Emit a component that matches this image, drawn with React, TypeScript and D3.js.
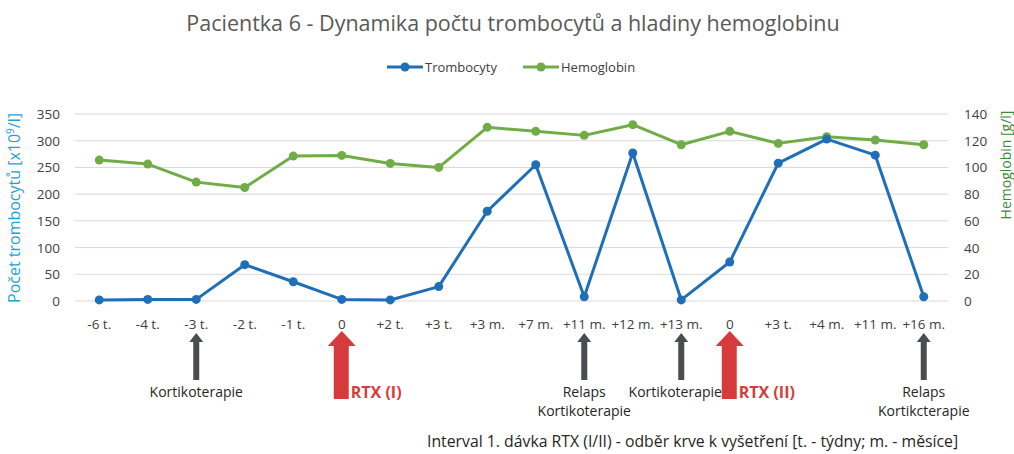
import * as d3 from 'd3';
import React, { useEffect, useRef } from 'react';

const categories = ['-6 t.', '-4 t.', '-3 t.', '-2 t.', '-1 t.', '0', '+2 t.', '+3 t.', '+3 m.', '+7 m.',
  '+11 m.', '+12 m.', '+13 m.', '0', '+3 t.', '+4 m.', '+11 m.', '+16 m.'];
const trombocyty = [2, 3, 3, 68, 36, 3, 2, 27, 168, 255, 8, 277, 2, 73, 258, 303, 273, 8];
const hemoglobin = [105.5, 102.5, 89, 85, 108.5, 109, 103, 100, 130, 127, 124, 132, 117, 127, 118, 123, 120.5, 117];
const leftTicks = [0, 50, 100, 150, 200, 250, 300, 350];
const rightTicks = [0, 20, 40, 60, 80, 100, 120, 140];

// annotations: category index, kind, label lines
const notes = [
  { i: 2, kind: 'kort', lines: ['Kortikoterapie'] },
  { i: 5, kind: 'rtx', lines: ['RTX (I)'] },
  { i: 10, kind: 'kort', lines: ['Relaps', 'Kortikoterapie'] },
  { i: 12, kind: 'kort', lines: ['Kortikoterapie'] },
  { i: 13, kind: 'rtx', lines: ['RTX (II)'] },
  { i: 17, kind: 'kort', lines: ['Relaps', 'Kortikcterapie'] },
];

const FONT = 'Open Sans, sans-serif';
const BLUE = '#1f6fb8';
const GREEN = '#70ad47';

const App = () => {
  const ref = useRef(null);

  useEffect(() => {
    const svg = d3.select(ref.current);
    svg.selectAll('*').remove();

    const left = 75, right = 948, top = 114, bottom = 301;

    const x = d3.scaleBand().domain(categories.map((c, i) => i)).range([left, right]);
    const cx = i => x(i) + x.bandwidth() / 2;
    const y = d3.scaleLinear().domain([0, 350]).range([bottom, top]);
    const y2 = d3.scaleLinear().domain([0, 140]).range([bottom, top]);

    svg.append('text').attr('x', 513).attr('y', 31).attr('text-anchor', 'middle')
      .attr('font-family', FONT).attr('font-size', 21.5).attr('fill', '#595959')
      .text('Pacientka 6 - Dynamika počtu trombocytů a hladiny hemoglobinu');

    // legend
    const leg = [{ name: 'Trombocyty', c: BLUE, x: 387 }, { name: 'Hemoglobin', c: GREEN, x: 523 }];
    leg.forEach(l => {
      svg.append('line').attr('x1', l.x).attr('x2', l.x + 36).attr('y1', 67).attr('y2', 67)
        .attr('stroke', l.c).attr('stroke-width', 3);
      svg.append('circle').attr('cx', l.x + 18).attr('cy', 67).attr('r', 4.5).attr('fill', l.c);
      svg.append('text').attr('x', l.x + 38).attr('y', 72).attr('font-family', FONT)
        .attr('font-size', 13).attr('fill', '#404040').text(l.name);
    });

    // gridlines
    svg.append('g').selectAll('line').data(leftTicks).join('line')
      .attr('x1', left).attr('x2', right).attr('y1', d => y(d)).attr('y2', d => y(d))
      .attr('stroke', '#d9d9d9').attr('stroke-width', 1);

    svg.append('g').selectAll('text').data(leftTicks).join('text')
      .attr('x', 60).attr('y', d => y(d) + 5).attr('text-anchor', 'end')
      .attr('font-family', FONT).attr('font-size', 13.5).attr('fill', '#404040').text(d => d);
    svg.append('g').selectAll('text').data(rightTicks).join('text')
      .attr('x', 964).attr('y', d => y2(d) + 5).attr('text-anchor', 'start')
      .attr('font-family', FONT).attr('font-size', 13.5).attr('fill', '#404040').text(d => d);

    svg.append('g').selectAll('text').data(categories).join('text')
      .attr('x', (d, i) => cx(i)).attr('y', 329).attr('text-anchor', 'middle')
      .attr('font-family', FONT).attr('font-size', 13.5).attr('fill', '#404040').text(d => d);

    const lt = svg.append('text').attr('transform', `translate(20,208) rotate(-90)`)
      .attr('text-anchor', 'middle').attr('font-family', FONT).attr('font-size', 16).attr('fill', '#1fa3d3');
    lt.append('tspan').text('Počet trombocytů [x10');
    lt.append('tspan').attr('font-size', 10).attr('dy', -6).text('9');
    lt.append('tspan').attr('dy', 6).text('/l]');

    svg.append('text').attr('transform', `translate(1011,165) rotate(-90)`)
      .attr('text-anchor', 'middle').attr('font-family', FONT).attr('font-size', 14).attr('fill', '#3a8a3a')
      .text('Hemoglobin [g/l]');

    const series = [
      { vals: hemoglobin, s: y2, c: GREEN },
      { vals: trombocyty, s: y, c: BLUE },
    ];
    series.forEach(se => {
      const line = d3.line().x((d, i) => cx(i)).y(d => se.s(d));
      svg.append('path').datum(se.vals).attr('d', line).attr('fill', 'none')
        .attr('stroke', se.c).attr('stroke-width', 3).attr('stroke-linejoin', 'round');
      svg.append('g').selectAll('circle').data(se.vals).join('circle')
        .attr('cx', (d, i) => cx(i)).attr('cy', d => se.s(d)).attr('r', 4.5).attr('fill', se.c);
    });

    // arrows + labels
    notes.forEach(n => {
      const ax = cx(n.i);
      if (n.kind === 'kort') {
        svg.append('path')
          .attr('d', `M${ax},333 L${ax + 7},342 L${ax + 3},342 L${ax + 3},380 L${ax - 3},380 L${ax - 3},342 L${ax - 7},342 Z`)
          .attr('fill', '#4a4d50');
        n.lines.forEach((t, k) => {
          svg.append('text').attr('x', ax - (n.i === 12 ? 6 : 0)).attr('y', 397 + k * 19).attr('text-anchor', 'middle')
            .attr('font-family', FONT).attr('font-size', 14).attr('fill', '#262626').text(t);
        });
      } else {
        svg.append('path')
          .attr('d', `M${ax},331 L${ax + 14},346 L${ax + 7},346 L${ax + 7},399 L${ax - 8},399 L${ax - 8},346 L${ax - 14},346 Z`)
          .attr('fill', '#d63b3b');
        svg.append('text').attr('x', ax + 9).attr('y', 398).attr('font-family', FONT)
          .attr('font-size', 16).attr('font-weight', 'bold').attr('fill', '#d63b3b').text(n.lines[0]);
      }
    });

    svg.append('text').attr('x', 427).attr('y', 447).attr('font-family', FONT).attr('font-size', 15.8)
      .attr('fill', '#262626').text('Interval 1. dávka RTX (I/II) - odběr krve k vyšetření [t. - týdny; m. - měsíce]');
  }, []);

  return (
    <svg ref={ref} width={1014} height={454} style={{ position: 'absolute', left: 0, top: 0, background: '#fff' }}></svg>
  );
};

export default App;
